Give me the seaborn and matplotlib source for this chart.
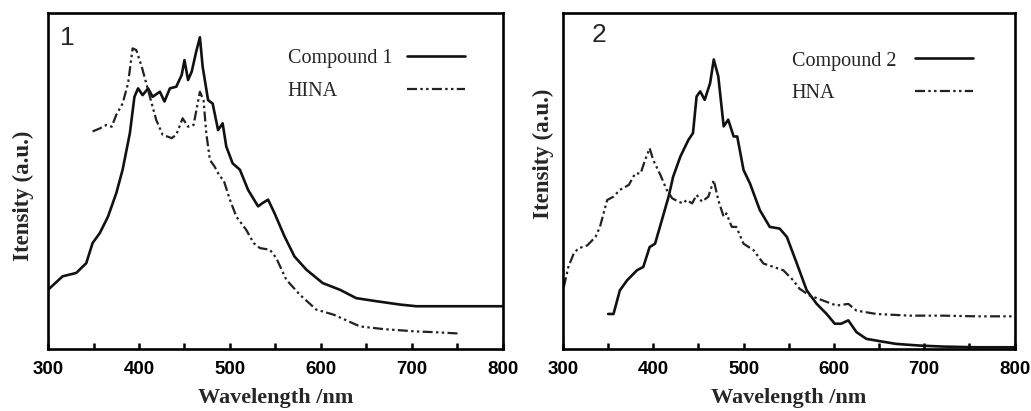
import matplotlib
matplotlib.use("Agg")
import matplotlib.pyplot as plt
import pandas as pd
import seaborn as sns

# panel 1: Compound 1 vs HINA
c1_nm = [300, 316, 331, 342, 349, 357, 366, 375, 382, 390, 395, 399, 404, 410, 415, 423,
         428, 434, 441, 447, 450, 454, 458, 463, 467, 470, 476, 481, 487, 492, 496, 503,
         511, 520, 531, 536, 542, 549, 560, 571, 584, 602, 621, 639, 661, 687, 705, 742,
         778, 800]
c1_int = [17.6, 21.6, 22.6, 25.5, 31.5, 34.5, 39.4, 46.3, 53.3, 64.2, 75.0, 77.5, 75.5,
          77.5, 75.0, 76.5, 73.6, 77.5, 78.0, 81.5, 85.9, 80.0, 82.5, 88.5, 92.7, 84.0,
          74.0, 73.0, 65.1, 67.1, 60.2, 55.2, 53.3, 47.3, 42.4, 43.4, 44.4, 40.4, 33.5,
          27.5, 23.6, 19.6, 17.6, 15.1, 14.2, 13.2, 12.7, 12.7, 12.7, 12.7]

hina_nm = [349, 357, 364, 370, 375, 382, 388, 393, 397, 403, 408, 414, 419, 426, 436,
           441, 448, 454, 460, 467, 471, 474, 478, 483, 489, 493, 500, 507, 518, 526, 533,
           544, 551, 562, 577, 595, 614, 643, 669, 705, 724, 751]
hina_int = [64.7, 65.6, 66.6, 66.1, 69.6, 73.0, 79.0, 89.4, 88.9, 84.0, 79.0, 73.0, 68.1,
            63.7, 62.7, 63.7, 68.6, 66.1, 66.6, 76.5, 74.0, 64.2, 56.2, 54.3, 51.3, 50.3,
            44.4, 39.4, 35.4, 31.5, 30.0, 29.5, 27.0, 20.6, 16.1, 11.7, 10.2, 6.7, 5.9,
            5.2, 5.0, 4.6]

# panel 2: Compound 2 vs HNA
c2_nm = [350, 356, 363, 371, 382, 389, 396, 402, 409, 417, 422, 430, 439, 444, 448, 452,
         457, 463, 467, 472, 478, 483, 489, 493, 500, 507, 518, 529, 540, 548, 559, 570,
         581, 592, 601, 608, 616, 625, 636, 651, 669, 695, 721, 758, 800]
c2_int = [10.4, 10.4, 17.4, 20.4, 23.4, 24.4, 30.3, 31.3, 37.8, 45.3, 51.2, 57.2, 62.2,
          64.2, 75.1, 76.6, 74.1, 79.1, 86.1, 81.1, 66.2, 68.2, 63.2, 63.2, 53.2, 49.3,
          41.3, 36.3, 35.8, 33.3, 25.4, 17.4, 13.4, 10.4, 7.5, 7.5, 8.5, 5.0, 3.0, 2.3,
          1.5, 1.0, 0.7, 0.5, 0.5]

hna_nm = [301, 306, 312, 317, 327, 336, 341, 349, 356, 363, 373, 380, 386, 391, 396, 400,
          408, 415, 421, 428, 433, 437, 443, 448, 454, 461, 467, 472, 478, 481, 487, 492,
          500, 511, 522, 533, 544, 555, 562, 573, 588, 603, 616, 625, 647, 684, 721, 758,
          800]
hna_int = [18.4, 24.4, 28.4, 29.9, 30.8, 33.3, 36.3, 44.3, 45.3, 47.3, 48.8, 52.2, 52.2,
           56.2, 59.7, 56.2, 51.7, 47.3, 44.8, 43.8, 43.3, 44.3, 43.3, 45.8, 43.8, 45.3,
           50.2, 44.3, 39.3, 40.3, 36.3, 36.3, 31.3, 29.4, 25.4, 24.4, 23.4, 20.4, 17.9,
           15.9, 14.4, 12.9, 13.4, 11.4, 10.4, 9.9, 9.9, 9.7, 9.7]

x_ticks = [300, 400, 500, 600, 700, 800]
x_minor = [350, 450, 550, 650, 750]

panels = [
    ("1", "Compound 1", c1_nm, c1_int, "HINA", hina_nm, hina_int),
    ("2", "Compound 2", c2_nm, c2_int, "HNA", hna_nm, hna_int),
]

sns.set_theme(style="ticks")
plt.rcParams["font.family"] = ["Liberation Sans", "DejaVu Sans"]

fig = plt.figure(figsize=(10.31, 4.11), dpi=100)
axes = [fig.add_axes([0.0466, 0.151, 0.441, 0.818]),
        fig.add_axes([0.546, 0.151, 0.438, 0.818])]

dash_dot_dot = (0, (4.5, 1.5, 1.1, 1.5, 1.1, 1.5))
layout = [
    dict(num=(0.026, 0.96), text_x=0.527, top=0.891, handle_x=0.789, ylab=(-0.055, 0.455)),
    dict(num=(0.064, 0.97), text_x=0.507, top=0.885, handle_x=0.779, ylab=(-0.044, 0.58)),
]

for ax, (num, lab_a, xa, ya, lab_b, xb, yb), pos in zip(axes, panels, layout):
    df_a = pd.DataFrame({"nm": xa, "intensity": ya})
    df_b = pd.DataFrame({"nm": xb, "intensity": yb})
    sns.lineplot(data=df_a, x="nm", y="intensity", ax=ax, color="#111111",
                 linewidth=1.9, estimator=None, sort=False)
    sns.lineplot(data=df_b, x="nm", y="intensity", ax=ax, color="#222222",
                 linewidth=1.6, linestyle=dash_dot_dot, estimator=None, sort=False)

    ax.set_xlim(300, 800)
    ax.set_ylim(0, 100)
    ax.set_yticks([])
    ax.set_xticks(x_ticks)
    ax.set_xticks(x_minor, minor=True)
    ax.set_xticklabels([str(t) for t in x_ticks], fontweight="bold", fontsize=13.5,
                       family="Liberation Sans")
    ax.tick_params(axis="x", which="both", direction="in", length=4, width=1.8,
                   pad=9, colors="black")
    for sp in ax.spines.values():
        sp.set_visible(True)
        sp.set_linewidth(1.9)
        sp.set_color("black")

    ax.set_xlabel("Wavelength /nm", family="Liberation Serif", fontweight="bold",
                  fontsize=16, labelpad=7)
    ax.set_ylabel("Itensity (a.u.)", family="Liberation Serif", fontweight="bold",
                  fontsize=16.5)
    ax.yaxis.set_label_coords(*pos["ylab"])
    ax.yaxis.label.set_va("center")

    ax.text(pos["num"][0], pos["num"][1], num, transform=ax.transAxes, va="top",
            ha="left", fontsize=19, family="Liberation Sans")

    lines = ax.get_lines()
    # label column, left aligned
    leg_text = ax.legend(lines, [lab_a, lab_b], loc="upper left",
                         bbox_to_anchor=(pos["text_x"], pos["top"]), frameon=False,
                         handlelength=0, handletextpad=0, borderpad=0,
                         borderaxespad=0, labelspacing=0.68,
                         prop={"family": "Liberation Serif", "size": 14.5})
    for h in leg_text.legend_handles:
        h.set_visible(False)
    ax.add_artist(leg_text)
    # line-sample column
    ax.legend(lines, ["", ""], loc="upper left",
              bbox_to_anchor=(pos["handle_x"], pos["top"]), frameon=False,
              handlelength=2.9, handletextpad=0, borderpad=0, borderaxespad=0,
              labelspacing=0.68, prop={"family": "Liberation Serif", "size": 14.5})

fig.savefig("out.png", dpi=100, facecolor="white")
